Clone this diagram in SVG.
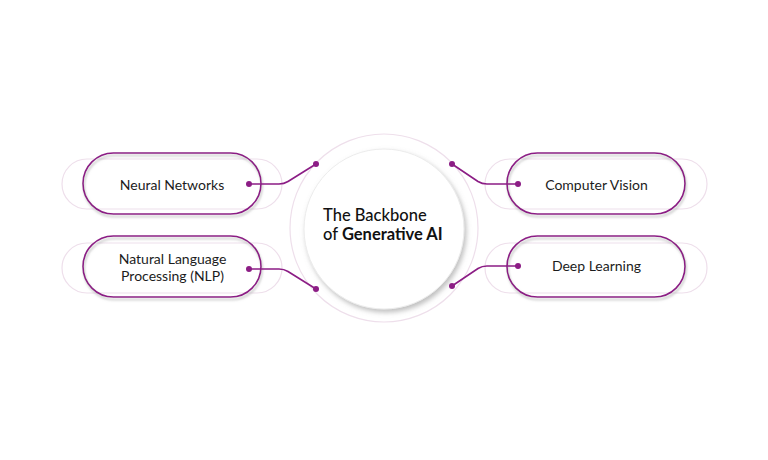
<svg xmlns="http://www.w3.org/2000/svg" width="768" height="460" viewBox="0 0 768 460">
  <defs>
    <filter id="pillShadow" x="-10%" y="-20%" width="120%" height="150%">
      <feDropShadow dx="1" dy="2.5" stdDeviation="1.2" flood-color="#9a9a9a" flood-opacity="0.6"/>
    </filter>
    <filter id="circleShadow" x="-20%" y="-20%" width="140%" height="140%">
      <feDropShadow dx="2" dy="3" stdDeviation="2.5" flood-color="#8a8a8a" flood-opacity="0.55"/>
    </filter>
  </defs>
  <style>
    .faint { fill: #ffffff; stroke: #eedfeb; stroke-width: 1.2; }
    .pill { fill: none; stroke: #8c1d85; stroke-width: 1.6; filter: url(#pillShadow); }
    .conn { fill: none; stroke: #8c1d85; stroke-width: 1.6; }
    .dot { fill: #8c1d85; }
    .label { font-family: Lato, "Noto Sans", "Liberation Sans", sans-serif; font-size: 14px; fill: #1c1c1c; text-anchor: middle; }
    .title { font-family: Lato, "Noto Sans", "Liberation Sans", sans-serif; font-size: 16.5px; fill: #111111; }
  </style>
  <rect width="768" height="460" fill="#ffffff"/>

  <g id="center">
    <circle cx="384" cy="228" r="94" fill="#ffffff" stroke="#eedfeb" stroke-width="1.2"/>
    <circle cx="384" cy="229" r="80" fill="#ffffff" stroke="#ececec" stroke-width="1" filter="url(#circleShadow)"/>
    <text class="title" x="323" y="221" font-weight="500">The Backbone</text>
    <text class="title" x="323" y="240" font-weight="500">of <tspan font-weight="700">Generative AI</tspan></text>
  </g>

  <g id="neural-networks">
    <rect class="faint" x="62" y="159" width="220" height="50" rx="25"/>
    <rect class="pill" x="83" y="153" width="178" height="61" rx="30.5"/>
    <text class="label" x="172" y="190">Neural Networks</text>
  </g>

  <g id="nlp">
    <rect class="faint" x="62" y="243" width="220" height="50" rx="25"/>
    <rect class="pill" x="83" y="236" width="178" height="61" rx="30.5"/>
    <text class="label" x="172.5" y="263.5">Natural Language</text>
    <text class="label" x="172.5" y="281">Processing (NLP)</text>
  </g>

  <g id="computer-vision">
    <rect class="faint" x="485" y="159" width="222" height="50" rx="25"/>
    <rect class="pill" x="507" y="153" width="178" height="61" rx="30.5"/>
    <text class="label" x="596.5" y="190">Computer Vision</text>
  </g>

  <g id="deep-learning">
    <rect class="faint" x="485" y="243" width="222" height="50" rx="25"/>
    <rect class="pill" x="507" y="236" width="178" height="61" rx="30.5"/>
    <text class="label" x="596.5" y="271">Deep Learning</text>
  </g>

  <g id="connectors">
    <path class="conn" d="M249,184 H279 Q284,184 288,181.5 L316,164"/>
    <path class="conn" d="M249,269 H279 Q284,269 288,271.5 L316,289"/>
    <path class="conn" d="M518,184 H487 Q482,184 478,181.5 L452,164"/>
    <path class="conn" d="M518,266 H487 Q482,266 478,268.5 L452,286"/>
    <circle class="dot" cx="249" cy="184" r="3"/>
    <circle class="dot" cx="316" cy="164" r="3"/>
    <circle class="dot" cx="249" cy="269" r="3"/>
    <circle class="dot" cx="316" cy="289" r="3"/>
    <circle class="dot" cx="518" cy="184" r="3"/>
    <circle class="dot" cx="452" cy="164" r="3"/>
    <circle class="dot" cx="518" cy="266" r="3"/>
    <circle class="dot" cx="452" cy="286" r="3"/>
  </g>
</svg>
